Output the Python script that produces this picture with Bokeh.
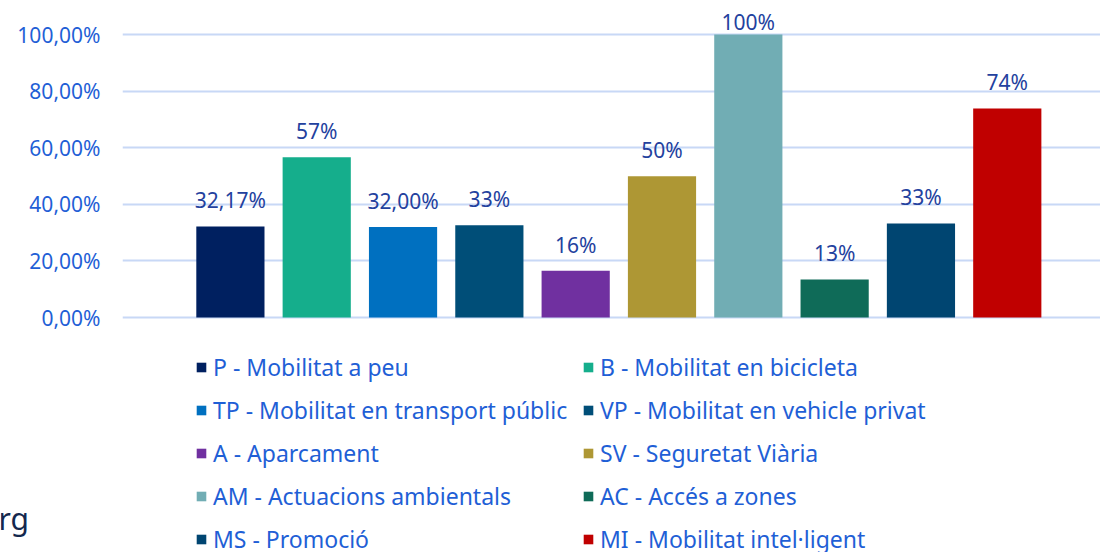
from bokeh.plotting import figure
from bokeh.layouts import column
from bokeh.models import (ColumnDataSource, Range1d, FixedTicker, Legend, LegendItem, Label)
from bokeh.embed import file_html
from bokeh.resources import INLINE

# ---- data ----
codes = ["P", "B", "TP", "VP", "A", "SV", "AM", "AC", "MS", "MI"]
names = ["P - Mobilitat a peu", "B - Mobilitat en bicicleta",
         "TP - Mobilitat en transport públic", "VP - Mobilitat en vehicle privat",
         "A - Aparcament", "SV - Seguretat Viària",
         "AM - Actuacions ambientals", "AC - Accés a zones",
         "MS - Promoció", "MI - Mobilitat intel·ligent"]
values = [32.17, 56.6, 32.0, 32.6, 16.5, 49.9, 100.0, 13.4, 33.2, 73.9]
value_labels = ["32,17%", "57%", "32,00%", "33%", "16%", "50%", "100%", "13%", "33%", "74%"]
colors = ["#002060", "#15AE8C", "#0070C0", "#004E78", "#7030A0",
          "#AE9734", "#71ADB4", "#0F6B58", "#004571", "#C00000"]
y_ticks = [0, 20, 40, 60, 80, 100]
y_tick_labels = ["0,00%", "20,00%", "40,00%", "60,00%", "80,00%", "100,00%"]

FONT = "Noto Sans"
AXIS_BLUE = "#1f5fd6"
LABEL_BLUE = "#23419e"
W = 1100

xs = list(range(len(codes)))
label_y = [min(v + 9.3, 104.3) for v in values]
src = ColumnDataSource(dict(x=xs, top=values, color=colors, lab=value_labels, ly=label_y))

# ---- chart ----
p = figure(width=W, height=336, output_backend="svg", toolbar_location=None,
           x_range=Range1d(-1.25, 10.08), y_range=Range1d(-4.59, 108.5),
           min_border_left=122, min_border_right=0, min_border_top=10, min_border_bottom=6)
p.outline_line_color = None
p.frame_align = False

bars = p.vbar(x="x", top="top", bottom=0, width=0.79, color="color", source=src, line_color=None)
p.text(x="x", y="ly", text="lab", source=src, text_align="center", text_baseline="alphabetic",
       text_font={"value": FONT}, text_font_size="21px", text_color=LABEL_BLUE)

p.xaxis.visible = False
p.xgrid.visible = False
p.yaxis.ticker = FixedTicker(ticks=y_ticks)
p.yaxis.major_label_overrides = {t: l for t, l in zip(y_ticks, y_tick_labels)}
p.yaxis.axis_line_color = None
p.yaxis.major_tick_line_color = None
p.yaxis.minor_tick_line_color = None
p.yaxis.major_tick_out = 0
p.yaxis.major_tick_in = 0
p.yaxis.major_label_standoff = 22
p.yaxis.major_label_text_font = FONT
p.yaxis.major_label_text_font_size = "21px"
p.yaxis.major_label_text_color = AXIS_BLUE
p.ygrid.ticker = FixedTicker(ticks=y_ticks)
p.ygrid.grid_line_color = "#c8d8f6"
p.ygrid.grid_line_width = 2

# ---- legend panel ----
LH = 216
q = figure(width=W, height=LH, output_backend="svg", toolbar_location=None,
           x_range=Range1d(0, W), y_range=Range1d(LH, 0),
           min_border_left=0, min_border_right=0, min_border_top=0, min_border_bottom=0)
q.outline_line_color = None
q.frame_align = False
q.axis.visible = False
q.grid.visible = False
proxy = q.vbar(x="x", top="top", bottom=0, width=0.79, color="color", source=src,
               line_color=None, visible=False)

def make_legend(idxs, xloc):
    items = [LegendItem(label=names[i], renderers=[proxy], index=i) for i in idxs]
    lg = Legend(items=items, location=(xloc, -3), orientation="vertical",
                label_text_font=FONT, label_text_font_size="23px", label_text_color=AXIS_BLUE,
                glyph_width=12, glyph_height=12, label_standoff=6, label_height=29,
                spacing=11, padding=0, margin=0, border_line_color=None,
                background_fill_alpha=0, click_policy="none")
    q.add_layout(lg)

make_legend([0, 2, 4, 6, 8], 195)
make_legend([1, 3, 5, 7, 9], 582)

q.add_layout(Label(x=-2, y=182, text="rg", text_font=FONT, text_font_size="30px",
                   text_color="#14284e", text_baseline="alphabetic"))

open("out.html", "w").write(file_html(column(p, q, spacing=0), INLINE))
